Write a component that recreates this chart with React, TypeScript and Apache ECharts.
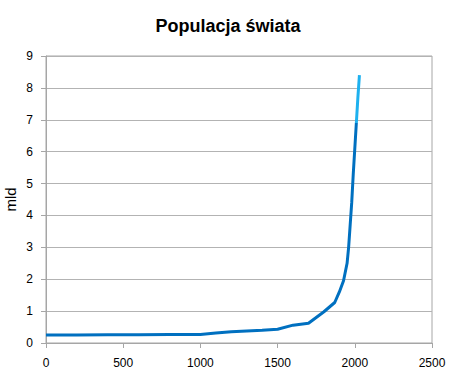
import React, { useEffect, useRef } from "react";
import * as echarts from "echarts";

const title = "Populacja świata";
const yName = "mld";
const years = [0, 200, 400, 600, 800, 1000, 1100, 1200, 1300, 1400, 1500, 1600, 1700, 1800, 1870, 1900, 1927, 1950, 1960, 1970, 1980, 1990, 2000, 2010];
const population = [0.25, 0.25, 0.26, 0.26, 0.27, 0.27, 0.31, 0.35, 0.38, 0.40, 0.43, 0.56, 0.62, 0.98, 1.27, 1.6, 1.95, 2.5, 3.0, 3.7, 4.4, 5.3, 6.1, 6.9];
const projYears = [2010, 2020, 2030];
const projPopulation = [6.9, 7.7, 8.4];

export default function App() {
  const ref = useRef<HTMLDivElement>(null);
  useEffect(() => {
    if (!ref.current) return;
    const chart = echarts.init(ref.current, null, { renderer: "svg" });
    const font = "'Liberation Sans', Arial, sans-serif";
    chart.setOption({
      animation: false,
      title: {
        text: title,
        left: "center",
        top: 12,
        textStyle: { fontFamily: font, fontSize: 18, fontWeight: "bold", color: "#000" },
      },
      grid: {
        left: 46,
        right: 24,
        top: 56,
        bottom: 39,
        containLabel: false,
        outerBoundsMode: "none",
        show: true,
        borderColor: "#a6a6a6",
        borderWidth: 1,
      },
      xAxis: {
        type: "value",
        min: 0,
        max: 2500,
        interval: 500,
        axisLine: { show: true, lineStyle: { color: "#a6a6a6" } },
        axisTick: { show: true, length: 5, lineStyle: { color: "#a6a6a6" } },
        splitLine: { show: false },
        axisLabel: {
          color: "#000",
          fontFamily: font,
          fontSize: 12,
          margin: 14,
          formatter: (v: number) => String(v),
        },
      },
      yAxis: {
        type: "value",
        min: 0,
        max: 9,
        interval: 1,
        name: yName,
        nameLocation: "middle",
        nameGap: 28,
        nameMoveOverlap: false,
        nameTextStyle: { fontFamily: font, fontSize: 15, color: "#000" },
        axisLine: { show: true, lineStyle: { color: "#a6a6a6" } },
        axisTick: { show: true, length: 5, lineStyle: { color: "#a6a6a6" } },
        splitLine: { show: true, lineStyle: { color: "#b3b3b3" } },
        axisLabel: { color: "#000", fontFamily: font, fontSize: 12, margin: 13 },
      },
      series: [
        {
          type: "line",
          data: years.map((y, i) => [y, population[i]]),
          showSymbol: false,
          lineStyle: { color: "#0070c0", width: 3 },
          itemStyle: { color: "#0070c0" },
        },
        {
          type: "line",
          data: projYears.map((y, i) => [y, projPopulation[i]]),
          showSymbol: false,
          lineStyle: { color: "#1eb1ef", width: 3 },
          itemStyle: { color: "#1eb1ef" },
        },
      ],
    });
    return () => chart.dispose();
  }, []);
  return <div ref={ref} style={{ width: 456, height: 382, position: "absolute", left: 0, top: 0 }} />;
}
